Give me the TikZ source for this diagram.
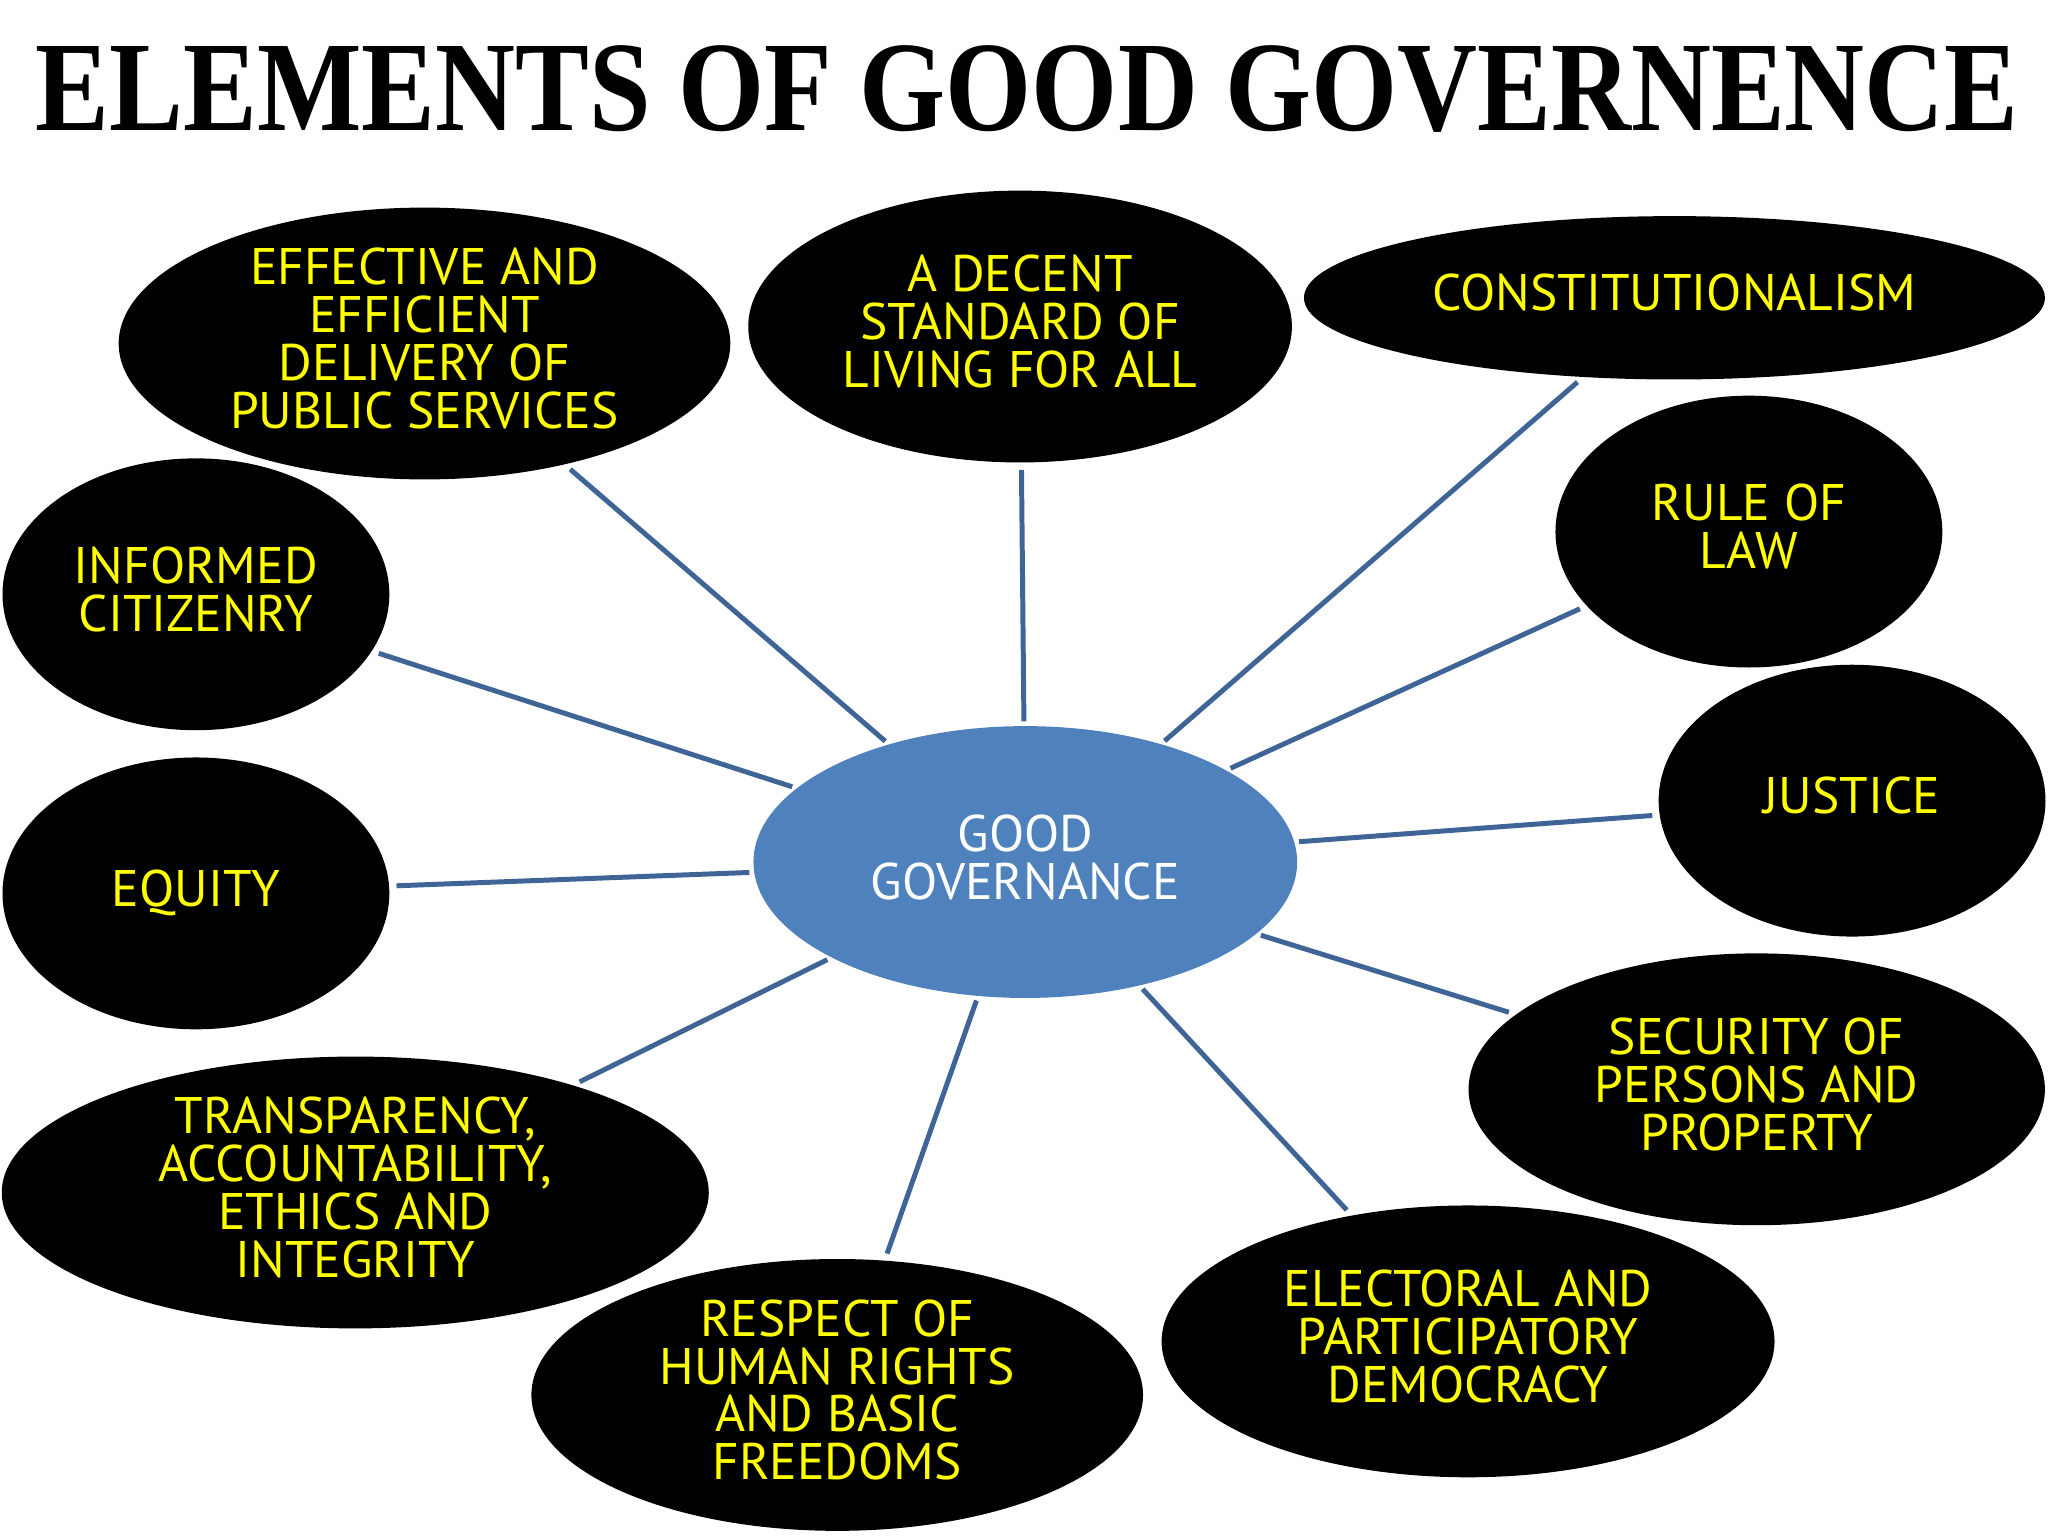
\documentclass[tikz,border=0pt]{standalone}
\usepackage{graphicx}
\usepackage{fontspec}
\setmainfont{PT Sans}
\newfontfamily\titlefont{Liberation Serif}
\usetikzlibrary{shapes.geometric}
\definecolor{ylw}{HTML}{FFFF00}
\definecolor{ggblue}{HTML}{4F81BD}
\definecolor{lnblue}{HTML}{3F6496}
\begin{document}
\begin{tikzpicture}[x=0.01cm,y=-0.01cm,
  bub/.style={ellipse, fill=black, text=ylw, inner sep=0pt, align=center,
    text depth=0.08cm, font=\fontsize{11.2}{10.4}\selectfont},
  sz/.style 2 args={minimum width=#1cm, minimum height=#2cm},
  conn/.style={draw=lnblue, line width=0.038cm, shorten <=0.05cm, shorten >=0.03cm}]
\fill[white] (0,0) rectangle (1568,1176);
\useasboundingbox (0,0) rectangle (1568,1176);

\node[inner sep=0pt, anchor=base] (title) at (786.5,100)
  {\resizebox{15.17cm}{0.65cm}{\titlefont\bfseries ELEMENTS OF GOOD GOVERNENCE}};

\node[bub, sz={4.68}{2.08}] (eff) at (325,263) {EFFECTIVE AND\\EFFICIENT\\DELIVERY OF\\PUBLIC SERVICES};
\node[bub, sz={4.16}{2.08}] (dec) at (781,250) {A DECENT\\STANDARD OF\\LIVING FOR ALL};
\node[bub, sz={5.67}{1.25}] (con) at (1282,228) {CONSTITUTIONALISM};
\node[bub, sz={2.96}{2.08}] (inf) at (150,455) {INFORMED\\CITIZENRY};
\node[bub, sz={2.96}{2.08}] (rol) at (1339,407) {RULE OF\\LAW};
\node[bub, sz={2.96}{2.08}] (equ) at (150,684) {EQUITY};
\node[bub, sz={2.96}{2.08}] (jus) at (1418,613) {JUSTICE};
\node[bub, fill=ggblue, text=white, sz={4.16}{2.08}] (gg) at (785,660) {GOOD\\GOVERNANCE};
\node[bub, sz={5.41}{2.08}] (tra) at (272,913) {TRANSPARENCY,\\ACCOUNTABILITY,\\ETHICS AND\\INTEGRITY};
\node[bub, sz={4.41}{2.08}] (sec) at (1345,834) {SECURITY OF\\PERSONS AND\\PROPERTY};
\node[bub, sz={4.68}{2.08}] (res) at (641,1068) {RESPECT OF\\HUMAN RIGHTS\\AND BASIC\\FREEDOMS};
\node[bub, sz={4.69}{2.08}] (ele) at (1124,1027) {ELECTORAL AND\\PARTICIPATORY\\DEMOCRACY};

\foreach \n in {eff,dec,con,inf,rol,equ,jus,tra,sec,res,ele}
  \draw[conn] (\n) -- (gg);
\end{tikzpicture}
\end{document}
